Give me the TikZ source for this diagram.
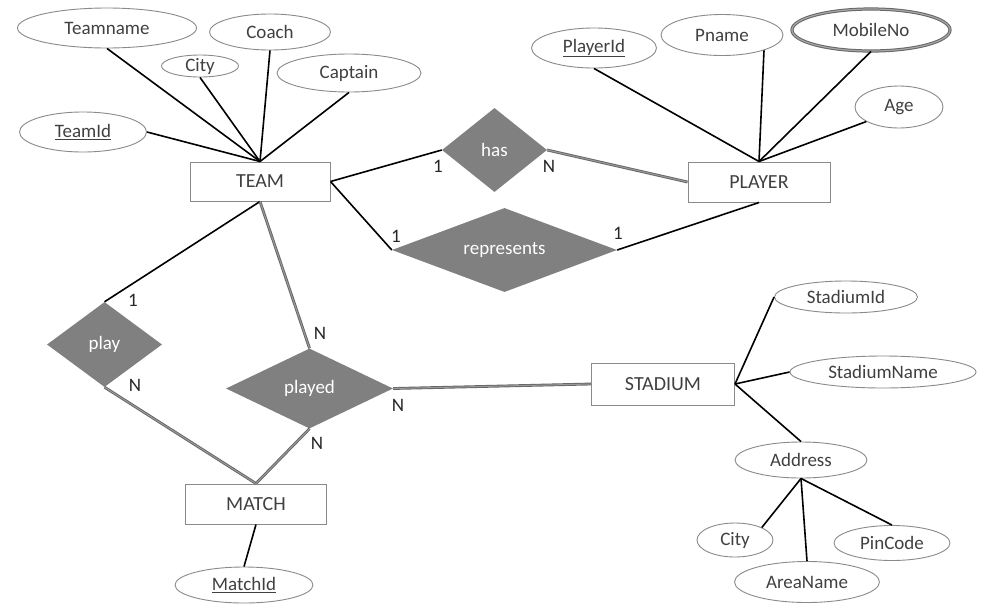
\documentclass[tikz,border=0pt]{standalone}
\usepackage{fontspec}
\setmainfont{Carlito}
\usetikzlibrary{shapes.geometric}
\definecolor{txt}{HTML}{404040}
\definecolor{dia}{HTML}{808080}
\definecolor{bord}{HTML}{8A8A8A}
\tikzset{
  attr/.style={ellipse, draw=bord, line width=0.9pt, inner sep=0pt},
  lab/.style={text=txt, font=\fontsize{19}{22}\selectfont, inner sep=0pt},
  ent/.style={rectangle, draw=bord, line width=1pt, inner sep=0pt, text=txt, font=\fontsize{20}{24}\selectfont},
  rel/.style={diamond, fill=dia, draw=none, inner sep=0pt, text=white, font=\fontsize{19}{22}\selectfont},
  card/.style={text=black!85, font=\fontsize{19}{22}\selectfont, inner sep=0pt},
  conn/.style={draw=black, line width=1.6pt},
  total/.style={draw=black!60, double=black!40, double distance=1pt, line width=0.9pt},
}
\begin{document}
\begin{tikzpicture}[x=1pt, y=-1pt]
\useasboundingbox[fill=white] (0,0) rectangle (988,606);

% entities
\node[ent, minimum width=140, minimum height=39] (team) at (260,181.5) {TEAM};
\node[ent, minimum width=142, minimum height=40] (player) at (759,182) {PLAYER};
\node[ent, minimum width=143, minimum height=42] (stadium) at (663,384) {STADIUM};
\node[ent, minimum width=141, minimum height=40] (match) at (256,504) {MATCH};

% relationships
\node[rel, minimum width=105, minimum height=84, aspect=1.25] (has) at (494.5,150) {has};
\node[rel, minimum width=225, minimum height=84, aspect=2.68] (represents) at (504.5,250) {represents};
\node[rel, minimum width=115, minimum height=85, aspect=1.35] (play) at (104.5,344.5) {play};
\node[rel, minimum width=167, minimum height=80, aspect=2.09] (played) at (309.5,388.5) {played};

% TEAM attributes
\node[attr, minimum width=179, minimum height=40, label={[lab]center:Teamname}] (teamname) at (107,28) {};
\node[attr, minimum width=121, minimum height=36, label={[lab]center:Coach}] (coach) at (270,32) {};
\node[attr, minimum width=77, minimum height=22, label={[lab]center:City}] (city) at (200,66) {};
\node[attr, minimum width=144, minimum height=38, label={[lab]center:Captain}] (captain) at (349,73) {};
\node[attr, minimum width=127, minimum height=40, label={[lab]center:\underline{TeamId}}] (teamid) at (83,132) {};

% PLAYER attributes
\node[attr, minimum width=125, minimum height=40, label={[lab]center:\underline{PlayerId}}] (playerid) at (594,48) {};
\node[attr, minimum width=122, minimum height=41, label={[lab]center:Pname}] (pname) at (722,35) {};
\node[attr, draw=black!60, double=black!35, double distance=1.2pt, line width=1pt, minimum width=158, minimum height=42, label={[lab]center:MobileNo}] (mobile) at (871,30) {};
\node[attr, minimum width=88, minimum height=42, label={[lab]center:Age}] (age) at (899,107) {};

% STADIUM attributes
\node[attr, minimum width=143, minimum height=32, label={[lab]center:StadiumId}] (stadiumid) at (846,297) {};
\node[attr, minimum width=186, minimum height=32, label={[lab]center:StadiumName}] (stadiumname) at (883,372) {};
\node[attr, minimum width=132, minimum height=36, label={[lab]center:Address}] (address) at (801,460) {};
\node[attr, minimum width=76, minimum height=34, label={[lab]center:City}] (city2) at (735,540) {};
\node[attr, minimum width=145, minimum height=41, label={[lab]center:AreaName}] (areaname) at (807,582) {};
\node[attr, minimum width=116, minimum height=35, label={[lab]center:PinCode}] (pincode) at (892,543) {};

% MATCH attribute
\node[attr, minimum width=138, minimum height=36, label={[lab]center:\underline{MatchId}}] (matchid) at (244,585) {};

% attribute connectors
\draw[conn] (teamname.south) -- (team.north);
\draw[conn] (city.south) -- (team.north);
\draw[conn] (coach.south) -- (team.north);
\draw[conn] (captain.south) -- (team.north);
\draw[conn] (teamid.east) -- (team.north);

\draw[conn] (playerid.south) -- (player.north);
\draw[conn] (pname.-20) -- (player.north);
\draw[conn] (mobile.south) -- (player.north);
\draw[conn] (age.-156) -- (player.north);

\draw[conn] (stadium.east) -- (stadiumid.west);
\draw[conn] (stadium.east) -- (stadiumname.west);
\draw[conn] (stadium.east) -- (address.north);
\draw[conn] (address.south) -- (city2.25);
\draw[conn] (address.south) -- (areaname.north);
\draw[conn] (address.south) -- (pincode.north);

\draw[conn] (match.south) -- (matchid.north);

% relationship connectors
\draw[conn] (team.east) -- (has.west);
\draw[total] (has.east) -- (player.west);
\draw[conn] (team.east) -- (represents.west);
\draw[conn] (represents.east) -- (player.south);
\draw[conn] (team.south) -- (play.north);
\draw[total] (team.south) -- (played.north);
\draw[total] (play.south) -- (match.north);
\draw[total] (played.south) -- (match.north);
\draw[total] (played.east) -- (stadium.west);

% cardinalities
\node[card] (c1) at (438,166) {1};
\node[card] (c2) at (549,166) {N};
\node[card] (c3) at (396,236) {1};
\node[card] (c4) at (618,233) {1};
\node[card] (c5) at (133,300) {1};
\node[card] (c6) at (135,385) {N};
\node[card] (c7) at (320,333) {N};
\node[card] (c8) at (398,405) {N};
\node[card] (c9) at (317,443) {N};
\end{tikzpicture}
\end{document}
